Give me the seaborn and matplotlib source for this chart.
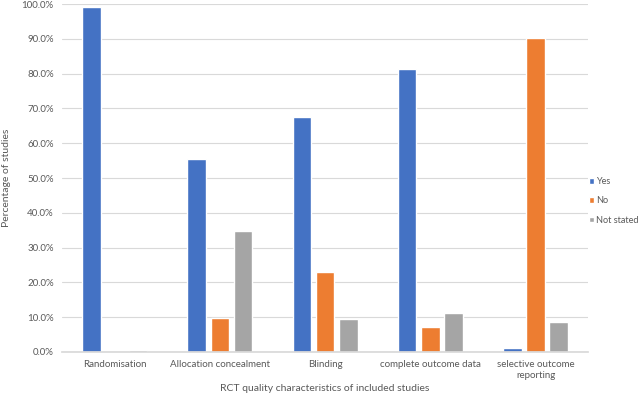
import matplotlib
matplotlib.use("Agg")
from matplotlib import pyplot as plt
from matplotlib.ticker import FuncFormatter
import seaborn as sns
import pandas as pd

# data (percent of studies)
categories = ['Randomisation', 'Allocation concealment', 'Blinding',
              'complete outcome data', 'selective outcome\nreporting']
series = ['Yes', 'No', 'Not stated']
yes_vals = [99.3, 55.5, 67.5, 81.3, 1.2]
no_vals = [0.0, 9.8, 23.0, 7.2, 90.2]
notstated_vals = [0.5, 34.8, 9.4, 11.2, 8.5]

df = pd.DataFrame({'category': categories * 3,
                   'answer': [s for s in series for _ in categories],
                   'pct': yes_vals + no_vals + notstated_vals})

sns.set_theme(style='white')
plt.rcParams['font.family'] = ['Lato', 'DejaVu Sans']
text_col = '#595959'

fig = plt.figure(figsize=(6.4, 3.98), dpi=100)
ax = fig.add_axes([0.097, 0.1156, 0.822, 0.874])

palette = {'Yes': '#4472C4', 'No': '#ED7D31', 'Not stated': '#A5A5A5'}
sns.barplot(data=df, x='category', y='pct', hue='answer', order=categories,
            hue_order=series, palette=palette, width=0.66, gap=0.2,
            saturation=1, ax=ax, legend=True)

ax.set_ylim(0, 100)
ax.set_yticks(range(0, 101, 10))
ax.yaxis.set_major_formatter(FuncFormatter(lambda v, p: f'{v:.1f}%'))
ax.grid(axis='y', color='#D9D9D9', linewidth=0.8)
ax.set_axisbelow(True)
for s in ['top', 'right', 'left']:
    ax.spines[s].set_visible(False)
ax.spines['bottom'].set_color('#D9D9D9')
ax.tick_params(axis='both', length=0, labelsize=7, colors=text_col, pad=6)
ax.set_xlabel('RCT quality characteristics of included studies', fontsize=7.5,
              color=text_col, labelpad=3)
ax.set_ylabel('Percentage of studies', fontsize=7.5, color=text_col, labelpad=8)

ax.legend_.remove()
handles, labels = ax.get_legend_handles_labels()
fig.legend(handles, labels, loc='center left', bbox_to_anchor=(0.920, 0.495),
           frameon=False, fontsize=6.6, labelcolor=text_col, handlelength=0.55,
           handleheight=0.55, handletextpad=0.2, labelspacing=1.1,
           borderaxespad=0, borderpad=0)

fig.savefig('out.png', dpi=100)
